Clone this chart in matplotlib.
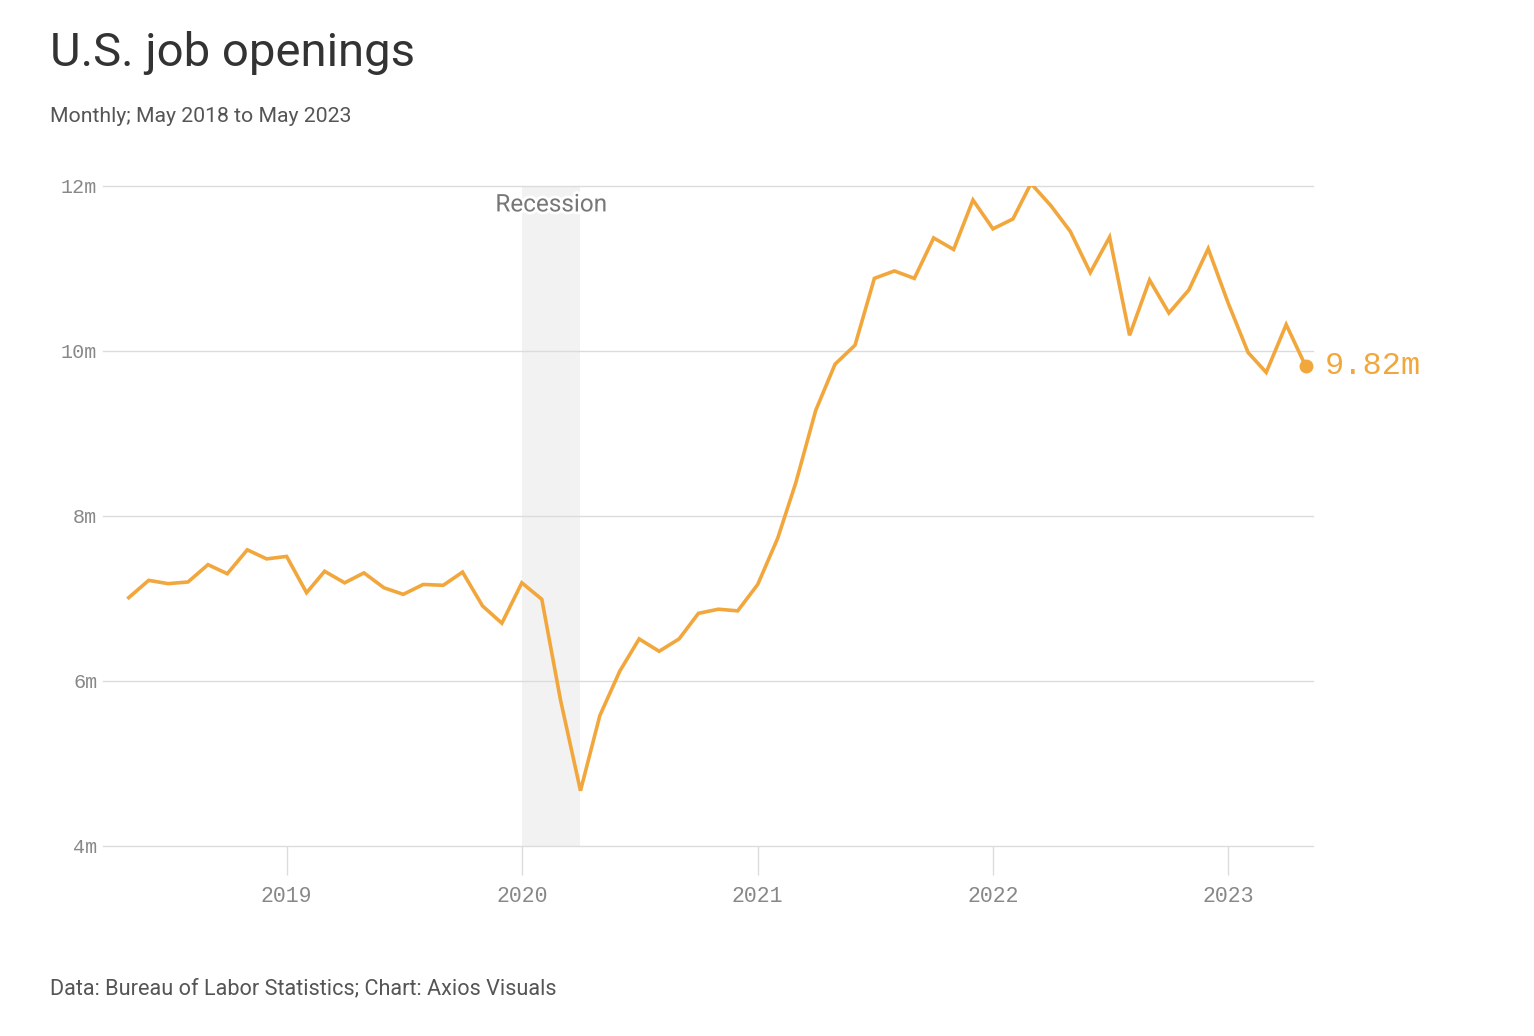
import pandas as pd
import matplotlib.pyplot as plt
import matplotlib.dates as mdates
import matplotlib.patheffects as pe

# Job openings, millions, monthly May 2018 - May 2023
months = pd.date_range("2018-05-01", periods=61, freq="MS")
openings = [
    7.01, 7.22, 7.18, 7.20, 7.41, 7.30, 7.59, 7.48,              # 2018
    7.51, 7.07, 7.33, 7.19, 7.31, 7.13, 7.05, 7.17, 7.16, 7.32, 6.91, 6.70,  # 2019
    7.19, 6.99, 5.77, 4.67, 5.58, 6.12, 6.51, 6.36, 6.51, 6.82, 6.87, 6.85,  # 2020
    7.17, 7.73, 8.40, 9.28, 9.84, 10.07, 10.88, 10.97, 10.88, 11.37, 11.23, 11.83,  # 2021
    11.48, 11.60, 12.03, 11.76, 11.45, 10.95, 11.38, 10.19, 10.86, 10.46, 10.74, 11.24,  # 2022
    10.58, 9.98, 9.74, 10.32, 9.82,                              # 2023
]
recession = (pd.Timestamp("2020-01-01"), pd.Timestamp("2020-04-01"))
y_ticks = [4, 6, 8, 10, 12]
year_ticks = [pd.Timestamp(f"{y}-01-01") for y in range(2019, 2024)]

orange = "#f2a73d"
sans = "Roboto"
mono = "Liberation Mono"

fig = plt.figure(figsize=(15.34, 10.36), dpi=100)
ax = fig.add_axes([0.0671, 0.1834, 0.789, 0.6371])

ax.axvspan(*recession, color="#f2f2f2", lw=0, zorder=0)
for v in y_ticks:
    ax.axhline(v, color="#dcdcdc", lw=1, zorder=1, clip_on=False)

ax.plot(months, openings, color=orange, lw=2.6, zorder=3, solid_joinstyle="miter")
ax.plot(months[-1], openings[-1], "o", color=orange, ms=9, zorder=4)
ax.annotate(f"{openings[-1]:.2f}m", (months[-1], openings[-1]),
            xytext=(14, 0), textcoords="offset points", va="center", ha="left",
            fontsize=23, family=mono, color=orange)

mid = recession[0] + (recession[1] - recession[0]) / 2
ax.text(mid, 11.77, "Recession", ha="center", va="center", fontsize=17.5,
        family=sans, color="#777777", zorder=2,
        path_effects=[pe.withStroke(linewidth=4, foreground="white")])

ax.set_xlim(pd.Timestamp("2018-03-22"), pd.Timestamp("2023-05-13"))
ax.set_ylim(4, 12)
ax.set_yticks(y_ticks)
ax.set_yticklabels([f"{v}m" for v in y_ticks])
ax.set_xticks(year_ticks)
ax.xaxis.set_major_formatter(mdates.DateFormatter("%Y"))

for s in ax.spines.values():
    s.set_visible(False)
ax.tick_params(axis="y", length=0, pad=4, labelsize=14.5, labelcolor="#888888")
ax.tick_params(axis="x", length=21, width=1, color="#dcdcdc", pad=8,
               labelsize=15.5, labelcolor="#888888")
for lab in ax.get_xticklabels() + ax.get_yticklabels():
    lab.set_family(mono)

fig.text(0.0326, 0.949, "U.S. job openings", fontsize=34, family=sans,
         color="#333333", va="center", ha="left")
fig.text(0.0326, 0.888, "Monthly; May 2018 to May 2023", fontsize=15.3,
         family=sans, color="#555555", va="center", ha="left")
fig.text(0.0326, 0.046, "Data: Bureau of Labor Statistics; Chart: Axios Visuals",
         fontsize=15.6, family=sans, color="#555555", va="center", ha="left")

fig.savefig("out.png", dpi=100, facecolor="white")
